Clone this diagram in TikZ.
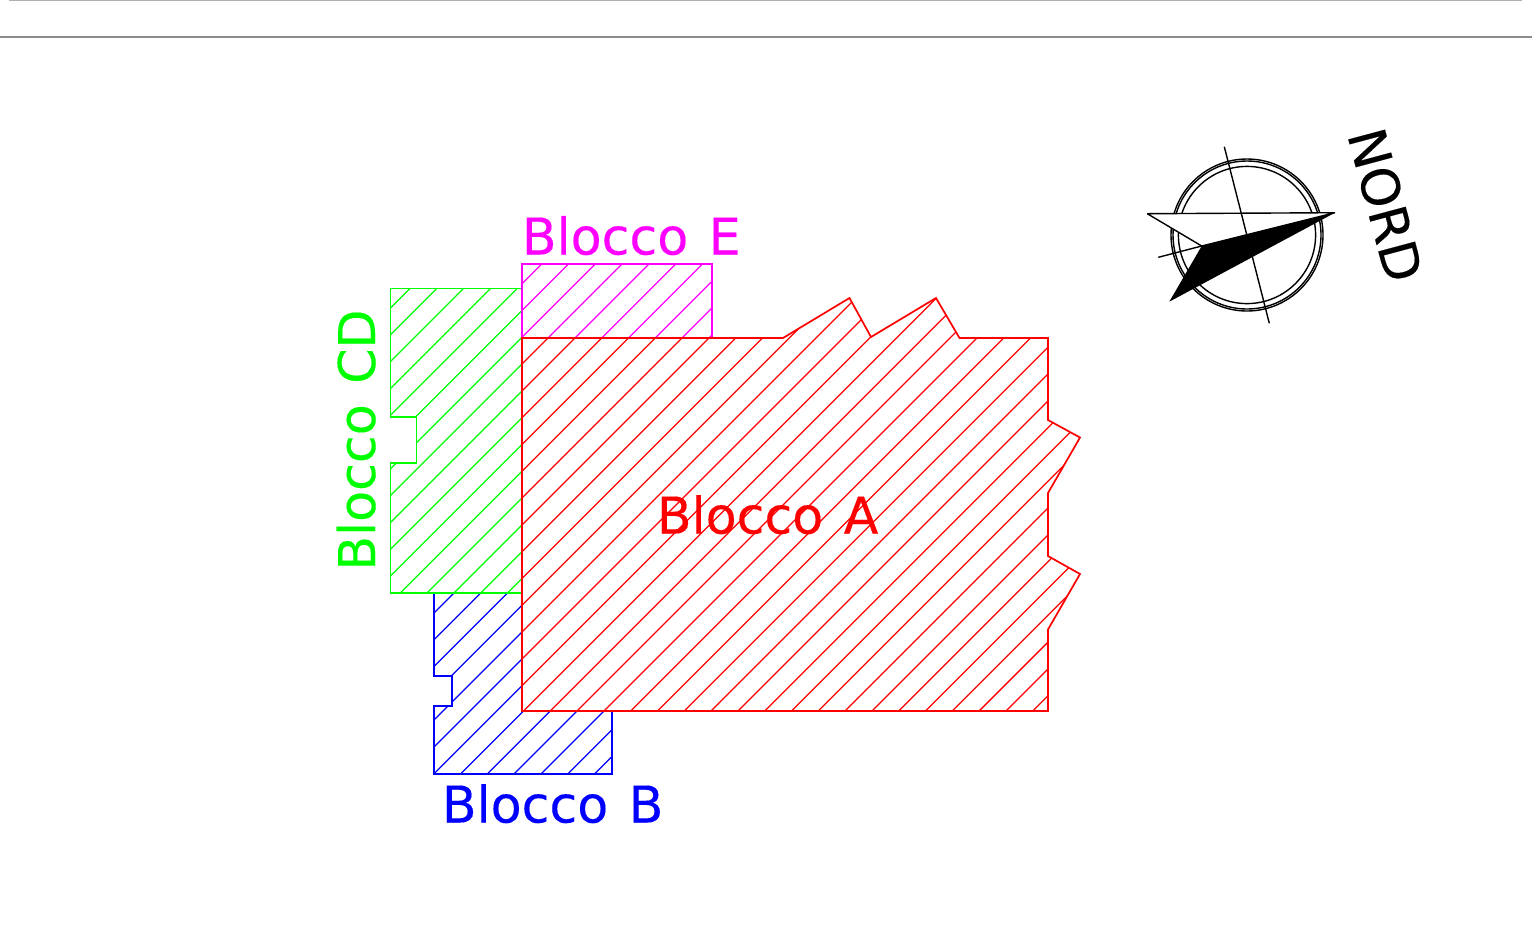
\documentclass[tikz,border=0pt]{standalone}
\usepackage{fontspec}
\setmainfont[FakeBold=0.25]{DejaVu Sans}
\usepackage{xcolor}
\definecolor{blockA}{RGB}{255,0,0}
\definecolor{blockB}{RGB}{0,0,255}
\definecolor{blockCD}{RGB}{0,255,0}
\definecolor{blockE}{RGB}{255,0,255}
\definecolor{barLight}{RGB}{176,176,176}
\definecolor{barDark}{RGB}{140,140,140}

% one hatch family shared by all blocks: x+y = 805.7 + k*26.8 (pixels)
\newcommand{\hatchblock}[2]{%
  \begin{scope}
    \clip #2 -- cycle;
    \foreach \k in {-6,...,36} {
      \pgfmathsetmacro{\c}{805.7+\k*26.8}
      \draw[hatchline, #1] (0,\c) -- (\c,0);
    }
  \end{scope}
  \draw[outline, #1] #2 -- cycle;
}

\begin{document}
\begin{tikzpicture}[
      x=0.5pt, y=-0.5pt,
      outline/.style={line width=0.85pt, line join=miter},
      hatchline/.style={line width=0.62pt},
      label/.style={font=\fontsize{25.3}{30}\selectfont, inner sep=0pt},
      compassline/.style={line width=0.7pt, black, line join=bevel},
      ring/.style={line width=0.7pt, black}
    ]
    \useasboundingbox (0,0) rectangle (1532,944);

    % Top bars
    \draw[barLight, line width=0.8pt] (9,0) -- (1522,0);
    \draw[barDark, line width=1.1pt] (0,37) -- (1532,37);

    % Blocks
    \hatchblock{blockB}{(434,593) -- (522,593) -- (522,711) -- (612,711) -- (612,774) -- (434,774) -- (434,706) -- (452,706) -- (452,676) -- (434,676)}
    \hatchblock{blockCD}{(390.5,288.5) -- (522,288.5) -- (522,593) -- (390.5,593) -- (390.5,463) -- (416.5,463) -- (416.5,417) -- (390.5,417)}
    \hatchblock{blockE}{(522,264) -- (712,264) -- (712,338) -- (522,338)}
    \hatchblock{blockA}{(522,338) -- (783,338) -- (849.5,298) -- (871,337) -- (936,298) -- (959.5,338) -- (1048,338) -- (1048,420) -- (1080,437.5) -- (1048,493) -- (1048,556) -- (1080,574) -- (1048,629.5) -- (1048,711) -- (522,711)}

    % Labels
    \node[label, blockE, anchor=base west] (labelE) at (521.5,254.5) {Blocco\hspace{2.2pt} E};
    \node[label, blockA, anchor=base west] (labelA) at (656.5,533.5) {Blocco\hspace{2.2pt} A};
    \node[label, blockB, anchor=base west] (labelB) at (441.5,822.5) {Blocco\hspace{2.2pt} B};
    \node[label, blockCD, anchor=base west, rotate=90] (labelCD) at (375,571) {Blocco\hspace{2.2pt} CD};

    % Compass
    \draw[ring] (1247,235) circle[radius=38pt];
    \draw[ring] (1247,235) circle[radius=37pt];
    \draw[ring] (1247,235) circle[radius=34.3pt];
    \draw[compassline, fill=white] (1147.3,213.7) -- (1335,212.7) -- (1201.7,246) -- cycle;
    \draw[compassline] (1224.3,146.7) -- (1269.3,323.3);
    \draw[compassline] (1158.3,257.3) -- (1201.7,246);
    \fill[black] (1335,212.7) -- (1201.7,246) -- (1169.3,301.7) -- cycle;
    \node[label, font=\fontsize{26}{31}\selectfont, anchor=center, rotate=-75] (labelNord) at (1385.5,205) {NORD};
\end{tikzpicture}
\end{document}
